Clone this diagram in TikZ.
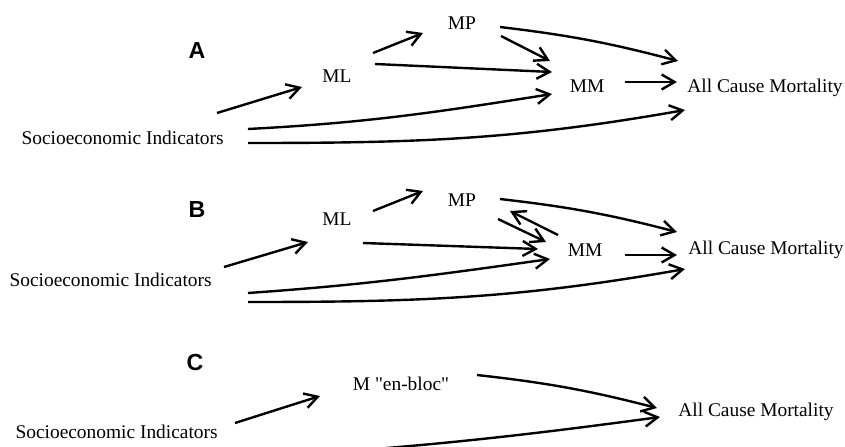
\documentclass[tikz,border=0pt]{standalone}
\usepackage{fontspec}
\setmainfont{Liberation Serif}[Ligatures=TeXOff]
\setsansfont{Liberation Sans}
\usetikzlibrary{arrows.meta}
\tikzset{
  var/.style={font=\fontsize{9.7}{11}\selectfont, inner sep=0pt, text height=6.4pt, text depth=0pt},
  panel/.style={font=\fontsize{11.6}{14}\selectfont\sffamily\bfseries, inner sep=0pt, text height=8.3pt, text depth=0pt},
  effect/.style={-{Straight Barb[length=6.5pt,width=7.5pt]}, line width=1.2pt},
}
\begin{document}
\begin{tikzpicture}[x=0.5pt, y=0.5pt]
  \useasboundingbox (0,0) rectangle (845,446);

  \node [panel] (p1) at (197,396) {A};
  \node [var, anchor=east] (si1) at (224,308) {Socioeconomic Indicators};
  \node [var] (ml1) at (337,370) {ML};
  \node [var] (mp1) at (462,423) {MP};
  \node [var] (mm1) at (587,360) {MM};
  \node [var, anchor=west] (acm1) at (687,360) {All Cause Mortality};

  \draw [effect] ([shift={(-7,25)}]si1.east) -- ([shift={(-35,-11)}]ml1.center);
  \draw [effect] ([shift={(36,23)}]ml1.center) -- ([shift={(-39,-10)}]mp1.center);
  \draw [effect] ([shift={(38,12)}]ml1.center) -- ([shift={(-35,14)}]mm1.center);
  \draw [effect] ([shift={(39,-13)}]mp1.center) -- ([shift={(-37,25)}]mm1.center);
  \draw [effect] ([shift={(38,-4)}]mp1.center) to [bend left=4] ([shift={(-9,25)}]acm1.west);
  \draw [effect] ([shift={(38,4)}]mm1.center) -- ([shift={(-10,4)}]acm1.west);
  \draw [effect] ([shift={(24,9)}]si1.east) to [out=3, in=189] ([shift={(-35,-8)}]mm1.center);
  \draw [effect] ([shift={(24,-5)}]si1.east) to [out=0, in=190] ([shift={(-2,-24)}]acm1.west);

  \node [panel] (p2) at (197,237) {B};
  \node [var, anchor=east] (si2) at (212,166) {Socioeconomic Indicators};
  \node [var] (ml2) at (337,227) {ML};
  \node [var] (mp2) at (462,246) {MP};
  \node [var] (mm2) at (585,196) {MM};
  \node [var, anchor=west] (acm2) at (688,198) {All Cause Mortality};

  \draw [effect] ([shift={(12,13)}]si2.east) -- ([shift={(-29,-23)}]ml2.center);
  \draw [effect] ([shift={(36,8)}]ml2.center) -- ([shift={(-39,9)}]mp2.center);
  \draw [effect] ([shift={(26,-24)}]ml2.center) -- ([shift={(-47,1)}]mm2.center);
  \draw [effect] ([shift={(36,-19)}]mp2.center) -- ([shift={(-39,8)}]mm2.center);
  \draw [effect] ([shift={(-27,15)}]mm2.center) -- ([shift={(48,-11)}]mp2.center);
  \draw [effect] ([shift={(38,1)}]mp2.center) to [bend left=4] ([shift={(-11,16)}]acm2.west);
  \draw [effect] ([shift={(40,-5)}]mm2.center) -- ([shift={(-11,-7)}]acm2.west);
  \draw [effect] ([shift={(36,-13)}]si2.east) to [out=4, in=188] ([shift={(-35,-9)}]mm2.center);
  \draw [effect] ([shift={(36,-22)}]si2.east) to [out=0, in=190] ([shift={(-3,-21)}]acm2.west);

  \node [panel] (p3) at (195,84) {C};
  \node [var, anchor=east] (si3) at (218,14) {Socioeconomic Indicators};
  \node [var] (m3) at (401,62) {M "en-bloc"};
  \node [var, anchor=west] (acm3) at (678,36) {All Cause Mortality};

  \draw [effect] ([shift={(17,9)}]si3.east) -- ([shift={(-81,-12)}]m3.center);
  \draw [effect] ([shift={(76,9)}]m3.center) to [bend left=4] ([shift={(-21,2)}]acm3.west);
  \draw [effect] ([shift={(32,-26)}]si3.east) to [bend right=2] ([shift={(-18,-7)}]acm3.west);
\end{tikzpicture}
\end{document}
